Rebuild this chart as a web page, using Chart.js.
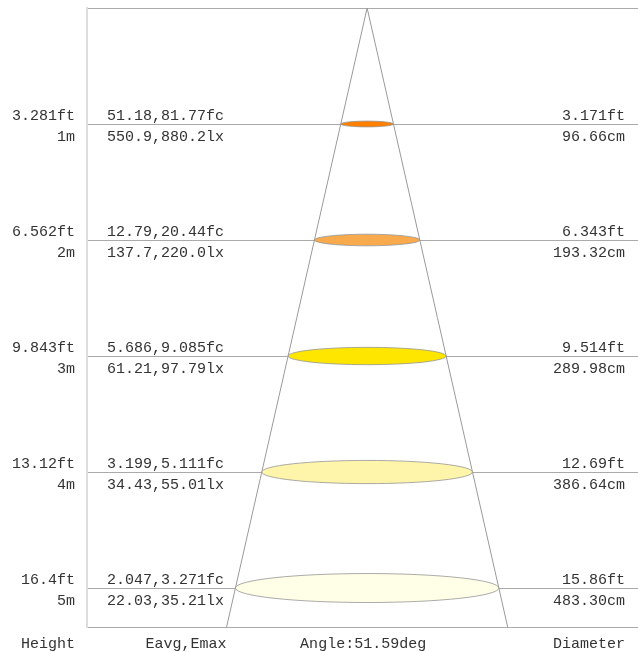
<!DOCTYPE html>
<html>
<head>
<meta charset="utf-8">
<script src="https://cdn.jsdelivr.net/npm/chart.js@4"></script>
<style>
    html, body { margin: 0; padding: 0; background: #fff; }
    #wrap { width: 638px; height: 652px; }
</style>
</head>
<body>
<div id="wrap"><canvas id="myChart" width="638" height="652"></canvas></div>
<script>
// values
const heightsM = [1, 2, 3, 4, 5];
const heightsFt = ['3.281ft', '6.562ft', '9.843ft', '13.12ft', '16.4ft'];
const fcLabels = ['51.18,81.77fc', '12.79,20.44fc', '5.686,9.085fc', '3.199,5.111fc', '2.047,3.271fc'];
const lxLabels = ['550.9,880.2lx', '137.7,220.0lx', '61.21,97.79lx', '34.43,55.01lx', '22.03,35.21lx'];
const diameterFt = ['3.171ft', '6.343ft', '9.514ft', '12.69ft', '15.86ft'];
const diameterCm = [96.66, 193.32, 289.98, 386.64, 483.30];
const spotColors = ['#ff8000', '#f9aa4c', '#ffe600', '#fff5aa', '#fffee6'];
const beamAngle = 51.59;
const footerLabels = ['Height', 'Eavg,Emax', 'Angle:' + beamAngle + 'deg', 'Diameter'];

const yMax = 5.336;
const xMin = -5.14;
const xMax = 4.97;
const font = '15px "Liberation Mono", "Courier New", monospace';
const textColor = '#333';

// cone edge: through the last diameter, carried on to the bottom of the plot
const last = heightsM.length - 1;
const edgeX = diameterCm[last] / 200 * yMax / heightsM[last];
const conePoints = [
    { x: -edgeX, y: yMax },
    { x: 0, y: 0 },
    { x: edgeX, y: yMax }
];

const spotPlugin = {
    id: 'spots',
    afterDatasetsDraw(chart) {
        const { ctx, scales: { x, y } } = chart;
        const cx = x.getPixelForValue(0);
        ctx.save();
        heightsM.forEach((h, i) => {
            const cy = y.getPixelForValue(h);
            const rx = x.getPixelForValue(diameterCm[i] / 200) - cx;
            const ry = rx * 0.11;
            ctx.beginPath();
            ctx.ellipse(cx, cy, rx, ry, 0, 0, Math.PI * 2);
            ctx.fillStyle = spotColors[i];
            ctx.fill();
            ctx.strokeStyle = 'rgba(150,150,150,0.8)';
            ctx.lineWidth = 1;
            ctx.stroke();
        });
        ctx.restore();
    },
    afterDraw(chart) {
        const { ctx, scales: { x, y } } = chart;
        ctx.save();
        ctx.font = font;
        ctx.fillStyle = textColor;
        ctx.textBaseline = 'middle';
        heightsM.forEach((h, i) => {
            const py = y.getPixelForValue(h);
            ctx.textAlign = 'right';
            ctx.fillText(heightsFt[i], 75, py - 8);
            ctx.fillText(h + 'm', 75, py + 13);
            ctx.fillText(diameterFt[i], 625, py - 8);
            ctx.fillText(diameterCm[i].toFixed(2) + 'cm', 625, py + 13);
            ctx.textAlign = 'left';
            ctx.fillText(fcLabels[i], 107, py - 8);
            ctx.fillText(lxLabels[i], 107, py + 13);
        });
        const fy = 644;
        ctx.textAlign = 'right';
        ctx.fillText(footerLabels[0], 75, fy);
        ctx.textAlign = 'center';
        ctx.fillText(footerLabels[1], 186, fy);
        ctx.fillText(footerLabels[2], x.getPixelForValue(0) - 4, fy);
        ctx.textAlign = 'right';
        ctx.fillText(footerLabels[3], 625, fy);
        ctx.restore();
    }
};

const ctx = document.getElementById('myChart').getContext('2d');
new Chart(ctx, {
    type: 'scatter',
    data: {
        datasets: [{
            type: 'line',
            data: conePoints,
            borderColor: '#9a9a9a',
            borderWidth: 1,
            pointRadius: 0,
            tension: 0,
            fill: false
        }]
    },
    options: {
        responsive: false,
        animation: false,
        devicePixelRatio: 1,
        layout: { padding: { left: 87, top: 8, right: 0, bottom: 25 } },
        plugins: {
            legend: { display: false },
            tooltip: { enabled: false }
        },
        scales: {
            x: {
                type: 'linear',
                min: xMin,
                max: xMax,
                grid: { display: false, drawTicks: false },
                ticks: { display: false },
                border: { display: true, color: '#aaa', width: 1 }
            },
            y: {
                type: 'linear',
                reverse: true,
                min: 0,
                max: yMax,
                afterBuildTicks: scale => {
                    scale.ticks = [0].concat(heightsM).map(v => ({ value: v }));
                },
                grid: { color: '#aaa', lineWidth: 1, drawTicks: false },
                ticks: { display: false },
                border: { display: true, color: '#ddd', width: 2 }
            }
        }
    },
    plugins: [spotPlugin]
});
</script>
</body>
</html>
